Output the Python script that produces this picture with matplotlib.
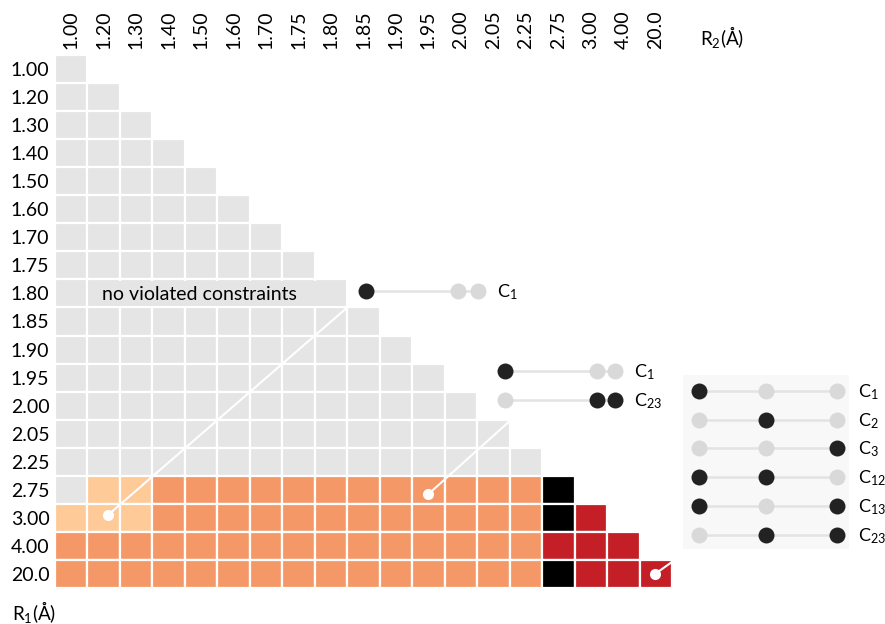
import matplotlib
matplotlib.use("Agg")
from matplotlib import pyplot as plt
from matplotlib.patches import Rectangle

plt.rcParams['font.family'] = ['Lato', 'DejaVu Sans']
plt.rcParams['mathtext.fontset'] = 'custom'
plt.rcParams['mathtext.rm'] = 'Lato'
plt.rcParams['mathtext.it'] = 'Lato'

r_labels = ["1.00", "1.20", "1.30", "1.40", "1.50", "1.60", "1.70", "1.75", "1.80", "1.85",
            "1.90", "1.95", "2.00", "2.05", "2.25", "2.75", "3.00", "4.00", "20.0"]

# one code per cell of the lower triangle, row by row
# 0 no violation, 1 light orange, 2 orange, 3 black, 4 red
cell_rows = [
    "0",
    "00",
    "000",
    "0000",
    "00000",
    "000000",
    "0000000",
    "00000000",
    "000000000",
    "0000000000",
    "00000000000",
    "000000000000",
    "0000000000000",
    "00000000000000",
    "000000000000000",
    "0112222222222223",
    "11122222222222234",
    "222222222222222444",
    "2222222222222223444",
]
code_colors = {"0": "#e5e5e5", "1": "#fdca98", "2": "#f59868", "3": "#000000", "4": "#c41f26"}

legend_names = ["C$_\\mathrm{1}$", "C$_\\mathrm{2}$", "C$_\\mathrm{3}$",
                "C$_\\mathrm{12}$", "C$_\\mathrm{13}$", "C$_\\mathrm{23}$"]
legend_pattern = [[1, 0, 0], [0, 1, 0], [0, 0, 1], [1, 1, 0], [1, 0, 1], [0, 1, 1]]

dark = "#222222"
light = "#d9d9d9"
n = len(r_labels)

fig = plt.figure(figsize=(8.85, 6.24), dpi=100)
ax = fig.add_axes([55/885, 1-588/624, 617/885, 533/624])
ax.set_xlim(0, n)
ax.set_ylim(n, 0)

for i, row in enumerate(cell_rows):
    for j, c in enumerate(row):
        ax.add_patch(Rectangle((j, i), 1, 1, facecolor=code_colors[c],
                               edgecolor="white", linewidth=1.6))

# label box
ax.add_patch(Rectangle((1.02, 8.04), 7.93, 0.92, facecolor="#e5e5e5", edgecolor="none", zorder=3))
ax.text(1.45, 8.52, "no violated constraints", fontsize=14, va="center", ha="left", zorder=4)

# pointer lines
pointers = [((9.0, 9.0), (1.63, 16.4)), ((14.0, 13.05), (11.5, 15.65)), ((19.0, 18.07), (18.48, 18.5))]
for (x0, y0), (x1, y1) in pointers:
    ax.plot([x0, x1], [y0, y1], color="white", lw=1.5, zorder=5, clip_on=False)
    ax.plot([x1], [y1], "o", color="white", ms=7, zorder=6, clip_on=False)

def dot_row(xs, y, states, label, tx):
    ax.plot([xs[0], xs[-1]], [y, y], color="#e3e3e3", lw=1.8, zorder=5, clip_on=False)
    for x, s in zip(xs, states):
        ax.plot([x], [y], "o", color=dark if s else light, ms=11.5, mew=0, zorder=6, clip_on=False)
    ax.text(tx, y + 0.05, label, fontsize=13, va="center", ha="left", clip_on=False)

dot_row([9.58, 12.41, 13.03], 8.41, [1, 0, 0], legend_names[0], 13.62)
dot_row([13.86, 16.69, 17.25], 11.27, [1, 0, 0], legend_names[0], 17.84)
dot_row([13.86, 16.69, 17.25], 12.3, [0, 1, 1], legend_names[5], 17.84)

ax.add_patch(Rectangle((19.35, 11.4), 5.1, 6.2, facecolor="#f8f8f8", edgecolor="none", clip_on=False, zorder=1))
legend_y = [11.98, 13.01, 14.01, 15.04, 16.08, 17.11]
for y, name, pat in zip(legend_y, legend_names, legend_pattern):
    dot_row([19.83, 21.9, 24.08], y, pat, name, 24.72)

ax.set_xticks([k + 0.5 for k in range(n)])
ax.set_xticklabels(r_labels, rotation=90, fontsize=14)
ax.set_yticks([k + 0.5 for k in range(n)])
ax.set_yticklabels(r_labels, fontsize=14)
ax.xaxis.tick_top()
ax.tick_params(length=0, pad=4)
for s in ax.spines.values():
    s.set_visible(False)

fig.text(12/885, 1-612/624, "R$_\\mathrm{1}$(Å)", fontsize=13.5, va="center", ha="left")
fig.text(700/885, 1-37/624, "R$_\\mathrm{2}$(Å)", fontsize=13.5, va="center", ha="left")

fig.savefig("out.png", dpi=100)
